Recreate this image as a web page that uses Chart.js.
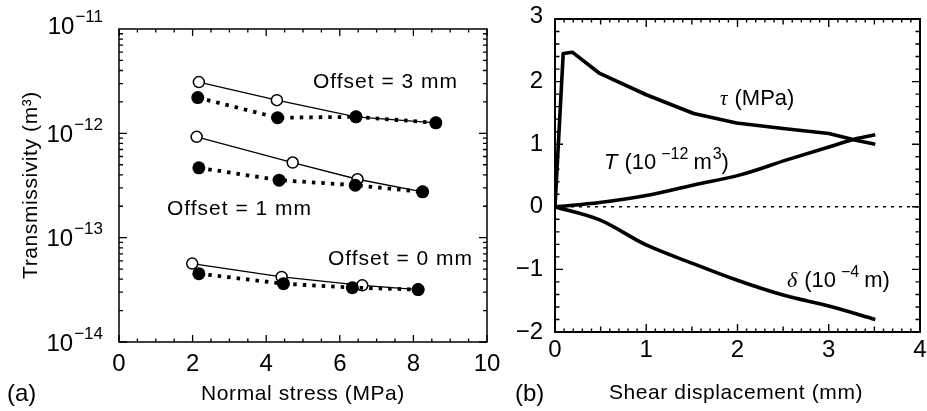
<!DOCTYPE html>
<html><head><meta charset="utf-8">
<script src="https://cdn.jsdelivr.net/npm/chart.js@4.4.0/dist/chart.umd.min.js"></script>
<style>
html,body{margin:0;padding:0;background:#fff;width:927px;height:411px;overflow:hidden}
canvas{position:absolute;top:0}
#ca{left:0;width:500px;height:411px}
#cb{left:500px;width:427px;height:411px}
</style></head><body>
<canvas id="ca" width="500" height="411"></canvas>
<canvas id="cb" width="427" height="411"></canvas>
<script>
// ---------- Panel (a): transmissivity vs normal stress ----------
const stressOpen3   = [2.17, 4.29, 6.44, 8.61];
const transOpen3    = [3.1e-12, 2.08e-12, 1.44e-12, 1.26e-12];
const stressFilled3 = [2.14, 4.31, 6.44, 8.61];
const transFilled3  = [2.2e-12, 1.41e-12, 1.44e-12, 1.26e-12];
const stressOpen1   = [2.11, 4.72, 6.48, 8.25];
const transOpen1    = [9.25e-13, 5.25e-13, 3.63e-13, 2.75e-13];
const stressFilled1 = [2.17, 4.35, 6.42, 8.25];
const transFilled1  = [4.67e-13, 3.56e-13, 3.18e-13, 2.75e-13];
const stressOpen0   = [1.99, 4.42, 6.61, 8.13];
const transOpen0    = [5.64e-14, 4.2e-14, 3.49e-14, 3.18e-14];
const stressFilled0 = [2.17, 4.47, 6.34, 8.13];
const transFilled0  = [4.52e-14, 3.62e-14, 3.32e-14, 3.18e-14];
const xTicksA = [0, 2, 4, 6, 8, 10];
const yDecadesA = [-14, -13, -12, -11];

// ---------- Panel (b): shear test ----------
const dispTau   = [0, 0.09, 0.19, 0.49, 1.0, 1.52, 1.99, 2.5, 3.0, 3.31, 3.51];
const tauMPa    = [0, 2.45, 2.47, 2.13, 1.79, 1.49, 1.34, 1.25, 1.17, 1.06, 1.0];
const dispT     = [0, 0.49, 1.0, 1.52, 2.03, 2.54, 3.01, 3.31, 3.51];
const transT    = [0, 0.07, 0.18, 0.35, 0.51, 0.75, 0.96, 1.09, 1.15];
const dispDelta = [0, 0.49, 1.0, 1.5, 1.99, 2.5, 3.01, 3.51];
const delta     = [0, -0.21, -0.61, -0.9, -1.17, -1.41, -1.59, -1.8];
const xTicksB = [0, 1, 2, 3, 4];
const yTicksB = [-2, -1, 0, 1, 2, 3];

const FONT = '"Liberation Sans", Arial, Helvetica, sans-serif';
const SERIF = '"Liberation Serif", "DejaVu Serif", serif';
const pts = (xs, ys) => xs.map((x, i) => ({x, y: ys[i]}));

function richText(ctx, x, y, parts, align) {
  let w = 0;
  parts.forEach(p => { ctx.font = p.f; w += ctx.measureText(p.t).width + (p.gap || 0); });
  let cx = align === 'right' ? x - w : align === 'center' ? x - w / 2 : x;
  ctx.textAlign = 'left';
  ctx.textBaseline = 'alphabetic';
  parts.forEach(p => { ctx.font = p.f; ctx.fillText(p.t, cx, y + (p.dy || 0)); cx += ctx.measureText(p.t).width + (p.gap || 0); });
}

function openDs(xs, ys) {
  return {data: pts(xs, ys), borderColor: '#000', borderWidth: 1.3, pointRadius: 5.5,
    pointBackgroundColor: '#fff', pointBorderColor: '#000', pointBorderWidth: 1.5, tension: 0};
}
function filledDs(xs, ys) {
  return {data: pts(xs, ys), borderColor: '#000', borderWidth: 3.8, borderDash: [3.5, 6], borderCapStyle: 'butt',
    pointRadius: 6.5, pointBackgroundColor: '#000', pointBorderColor: '#000', pointBorderWidth: 0, tension: 0};
}

const axesA = {
  id: 'axesA',
  afterDraw(chart) {
    const ctx = chart.ctx, xs = chart.scales.x, ys = chart.scales.y, a = chart.chartArea;
    ctx.save();
    ctx.strokeStyle = '#000'; ctx.fillStyle = '#000';
    ctx.lineWidth = 1.5;
    ctx.strokeRect(a.left, a.top, a.right - a.left, a.bottom - a.top);
    ctx.lineWidth = 1.3;
    ctx.beginPath();
    for (let i = 0; i <= 20; i++) {
      const v = i * 0.5, px = xs.getPixelForValue(v), len = (i % 4 === 0) ? 7 : 3.5;
      ctx.moveTo(px, a.bottom); ctx.lineTo(px, a.bottom - len);
      ctx.moveTo(px, a.top); ctx.lineTo(px, a.top + len);
    }
    for (let d = -14; d < -11; d++) {
      for (let m = 1; m <= 9; m++) {
        const py = ys.getPixelForValue(m * Math.pow(10, d)), len = m === 1 ? 8 : 4;
        ctx.moveTo(a.left, py); ctx.lineTo(a.left + len, py);
        ctx.moveTo(a.right, py); ctx.lineTo(a.right - len, py);
      }
    }
    ctx.stroke();
    ctx.font = '24px ' + FONT; ctx.textAlign = 'center'; ctx.textBaseline = 'middle';
    xTicksA.forEach(v => ctx.fillText(String(v), xs.getPixelForValue(v), 364));
    yDecadesA.forEach(d => {
      const py = ys.getPixelForValue(Math.pow(10, d)) + (d === -11 ? -4 : 0);
      richText(ctx, 103, py + 8.5, [
        {t: '10', f: '24px ' + FONT, gap: 1},
        {t: '\u2212' + String(-d), f: '17px ' + FONT, dy: -12}
      ], 'right');
    });
    ctx.font = '21px ' + FONT;
    ctx.letterSpacing = '0.6px';
    ctx.textAlign = 'center'; ctx.textBaseline = 'middle';
    ctx.fillText('Normal stress (MPa)', 303, 394);
    ctx.save();
    ctx.translate(31, 185); ctx.rotate(-Math.PI / 2);
    ctx.fillText('Transmissivity (m\u00B3)', 0, 0);
    ctx.restore();
    ctx.letterSpacing = '0px';
    ctx.font = '24px ' + FONT; ctx.textAlign = 'left';
    ctx.fillText('(a)', 7, 394);
    ctx.font = '21px ' + FONT; ctx.letterSpacing = '1px';
    ctx.fillText('Offset = 3 mm', 313, 82);
    ctx.fillText('Offset = 1 mm', 167, 209);
    ctx.fillText('Offset = 0 mm', 328, 259);
    ctx.restore();
  }
};

new Chart(document.getElementById('ca'), {
  type: 'line',
  data: {datasets: [
    filledDs(stressFilled3, transFilled3), filledDs(stressFilled1, transFilled1), filledDs(stressFilled0, transFilled0),
    openDs(stressOpen3, transOpen3), openDs(stressOpen1, transOpen1), openDs(stressOpen0, transOpen0)
  ]},
  options: {
    responsive: false, animation: false, devicePixelRatio: 1,
    layout: {padding: {left: 119, right: 13, top: 29, bottom: 69}},
    plugins: {legend: {display: false}, tooltip: {enabled: false}},
    scales: {
      x: {type: 'linear', min: 0, max: 10, display: false},
      y: {type: 'logarithmic', min: 1e-14, max: 1e-11, display: false}
    }
  },
  plugins: [axesA]
});

const axesB = {
  id: 'axesB',
  beforeDatasetsDraw(chart) {
    const ctx = chart.ctx, ys = chart.scales.y, a = chart.chartArea;
    ctx.save();
    ctx.strokeStyle = '#000'; ctx.lineWidth = 1.6; ctx.setLineDash([3, 5]);
    const py = ys.getPixelForValue(0);
    ctx.beginPath(); ctx.moveTo(a.left, py); ctx.lineTo(a.right, py); ctx.stroke();
    ctx.restore();
  },
  afterDraw(chart) {
    const ctx = chart.ctx, xs = chart.scales.x, ys = chart.scales.y, a = chart.chartArea;
    ctx.save();
    ctx.strokeStyle = '#000'; ctx.fillStyle = '#000';
    ctx.lineWidth = 2;
    ctx.strokeRect(a.left, a.top, a.right - a.left, a.bottom - a.top);
    ctx.lineWidth = 1.4;
    ctx.beginPath();
    for (let i = 0; i <= 40; i++) {
      const px = xs.getPixelForValue(i / 10), len = (i % 10 === 0) ? 8 : (i % 5 === 0 ? 5.5 : 3.5);
      ctx.moveTo(px, a.bottom); ctx.lineTo(px, a.bottom - len);
      ctx.moveTo(px, a.top); ctx.lineTo(px, a.top + len);
    }
    for (let i = -10; i <= 15; i++) {
      const py = ys.getPixelForValue(i / 5), len = (i % 5 === 0) ? 8 : 4.5;
      ctx.moveTo(a.left, py); ctx.lineTo(a.left + len, py);
      ctx.moveTo(a.right, py); ctx.lineTo(a.right - len, py);
    }
    ctx.stroke();
    ctx.font = '24px ' + FONT; ctx.textAlign = 'center'; ctx.textBaseline = 'middle';
    xTicksB.forEach(v => ctx.fillText(String(v), xs.getPixelForValue(v), 350));
    ctx.textAlign = 'right';
    yTicksB.forEach(v => ctx.fillText(v < 0 ? '\u2212' + String(-v) : String(v), 43, ys.getPixelForValue(v) + (v === 3 ? -3 : 0)));
    ctx.font = '21px ' + FONT; ctx.letterSpacing = '0.6px'; ctx.textAlign = 'center';
    ctx.fillText('Shear displacement (mm)', 236, 393);
    ctx.letterSpacing = '0px';
    ctx.font = '24px ' + FONT; ctx.textAlign = 'left';
    ctx.fillText('(b)', 15, 394);
    const f = '22px ' + FONT, fs = '16px ' + FONT;
    richText(ctx, 220, 105, [
      {t: '\u03C4', f: 'italic 21px ' + SERIF, gap: 7},
      {t: '(MPa)', f: f}
    ], 'left');
    richText(ctx, 104, 169, [
      {t: 'T', f: 'italic 22px ' + FONT, gap: 7},
      {t: '(10', f: f, gap: 5},
      {t: '\u221212', f: fs, dy: -10, gap: 5},
      {t: 'm', f: f, gap: 1},
      {t: '3', f: fs, dy: -10},
      {t: ')', f: f}
    ], 'left');
    richText(ctx, 287, 287, [
      {t: '\u03B4', f: 'italic 22px ' + SERIF, gap: 7},
      {t: '(10', f: f, gap: 5},
      {t: '\u22124', f: fs, dy: -10, gap: 5},
      {t: 'm)', f: f}
    ], 'left');
    ctx.restore();
  }
};

const lineB = (xs, ys, mono) => ({data: pts(xs, ys), borderColor: '#000', borderWidth: 3.6, pointRadius: 0,
  tension: 0, cubicInterpolationMode: mono ? 'monotone' : 'default', borderJoinStyle: 'round'});

new Chart(document.getElementById('cb'), {
  type: 'line',
  data: {datasets: [lineB(dispTau, tauMPa, false), lineB(dispT, transT, true), lineB(dispDelta, delta, true)]},
  options: {
    responsive: false, animation: false, devicePixelRatio: 1,
    layout: {padding: {left: 55, right: 7, top: 19, bottom: 79}},
    plugins: {legend: {display: false}, tooltip: {enabled: false}},
    scales: {
      x: {type: 'linear', min: 0, max: 4, display: false},
      y: {type: 'linear', min: -2, max: 3, display: false}
    }
  },
  plugins: [axesB]
});
</script>
</body></html>
